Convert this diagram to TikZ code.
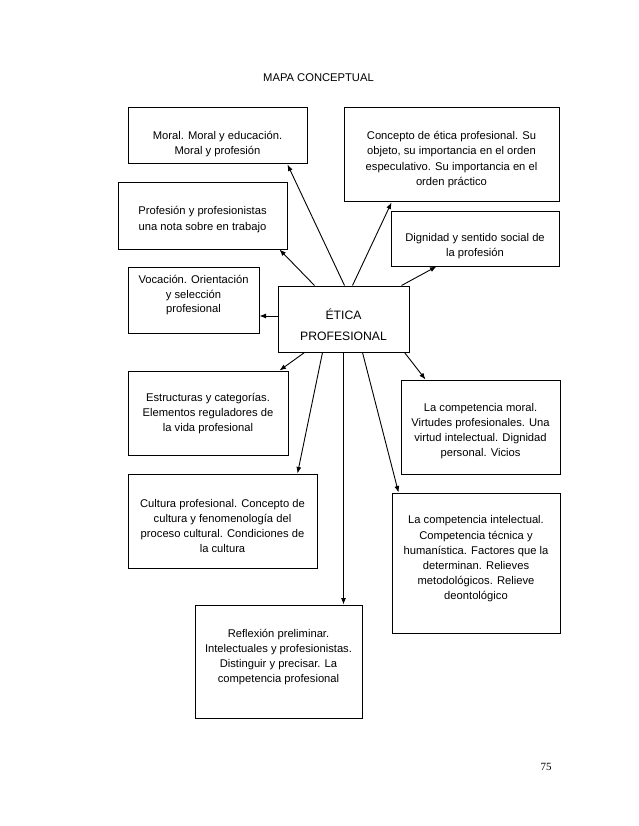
\documentclass[tikz,border=0pt]{standalone}
\usepackage{fontspec}
\setmainfont{Liberation Sans}
\newfontfamily\pagenumfont{Liberation Serif}
\usetikzlibrary{arrows.meta}
\begin{document}
\begin{tikzpicture}[x=1pt,y=-1pt,
  box/.style={draw, line width=1pt, rectangle, inner sep=0pt},
  txt/.style={align=center, font=\fontsize{11.2}{15.2}\selectfont, inner sep=0pt},
  arr/.style={line width=0.9pt, -{Latex[length=6.5pt,width=5pt]}}]
\useasboundingbox[fill=white] (0,0) rectangle (638,826);

\node[font=\fontsize{11.2}{14}\selectfont, inner sep=0pt] (title) at (318.5,78) {MAPA CONCEPTUAL};
\node[font=\pagenumfont\fontsize{11}{13}\selectfont, inner sep=0pt] (pnum) at (546,767) {75};

% boxes
\node[box, minimum width=179pt, minimum height=56pt]  (moral) at (217.5,136) {};
\node[box, minimum width=169pt, minimum height=66pt]  (prof)  at (202.5,216) {};
\node[box, minimum width=131pt, minimum height=66pt]  (voc)   at (193.5,300) {};
\node[box, minimum width=131pt, minimum height=66pt]  (etica) at (343.5,319) {};
\node[box, minimum width=215pt, minimum height=94pt]  (conc)  at (451.5,155) {};
\node[box, minimum width=168pt, minimum height=54pt]  (dign)  at (475,239) {};
\node[box, minimum width=160pt, minimum height=84pt]  (estr)  at (208,413) {};
\node[box, minimum width=159pt, minimum height=94pt]  (cmor)  at (480.5,427) {};
\node[box, minimum width=189pt, minimum height=94pt]  (cult)  at (222.5,521) {};
\node[box, minimum width=168pt, minimum height=140pt] (cint)  at (476,563) {};
\node[box, minimum width=167pt, minimum height=113pt] (refl)  at (278.5,661.5) {};

% texts
\node[txt] (tmoral) at (217.5,144) {Moral. Moral y educación.\\Moral y profesión};
\node[txt] (tprof) at (202.5,219.5) {Profesión y profesionistas\\una nota sobre en trabajo};
\node[txt, font=\fontsize{11.2}{14.5}\selectfont] (tvoc) at (193.5,295.5) {Vocación. Orientación\\y selección\\profesional};
\node[txt, font=\fontsize{12.2}{21}\selectfont] (tetica) at (343.5,324.5) {ÉTICA\\PROFESIONAL};
\node[txt] (tconc) at (451.5,159.5) {Concepto de ética profesional. Su\\objeto, su importancia en el orden\\especulativo. Su importancia en el\\orden práctico};
\node[txt] (tdign) at (475,246) {Dignidad y sentido social de\\la profesión};
\node[txt] (testr) at (208,413.5) {Estructuras y categorías.\\Elementos reguladores de\\la vida profesional};
\node[txt] (tcmor) at (480.5,431) {La competencia moral.\\Virtudes profesionales. Una\\virtud intelectual. Dignidad\\personal. Vicios};
\node[txt] (tcult) at (222.5,526) {Cultura profesional. Concepto de\\cultura y fenomenología del\\proceso cultural. Condiciones de\\la cultura};
\node[txt] (tcint) at (476,559) {La competencia intelectual.\\Competencia técnica y\\humanística. Factores que la\\determinan. Relieves\\metodológicos. Relieve\\deontológico};
\node[txt] (trefl) at (278.5,657) {Reflexión preliminar.\\Intelectuales y profesionistas.\\Distinguir y precisar. La\\competencia profesional};

% arrows
\draw[arr] ([xshift=67pt]etica.north west) -- ([xshift=160pt]moral.south west);
\draw[arr] ([xshift=37pt]etica.north west) -- ([xshift=162pt]prof.south west);
\draw[arr] ([yshift=3pt]etica.west) -- ([yshift=-16pt]voc.east);
\draw[arr] ([xshift=75pt]etica.north west) -- ([xshift=48pt]conc.south west);
\draw[arr] ([xshift=124pt]etica.north west) -- ([xshift=46pt]dign.south west);
\draw[arr] ([xshift=27pt]etica.south west) -- ([xshift=152pt]estr.north west);
\draw[arr] ([xshift=45pt]etica.south west) -- ([xshift=170pt]cult.north west);
\draw[arr] (etica.south) -- (etica.south |- refl.north);
\draw[arr] ([xshift=85pt]etica.south west) -- ([xshift=7pt]cint.north west);
\draw[arr] ([xshift=127pt]etica.south west) -- ([xshift=25pt]cmor.north west);
\end{tikzpicture}
\end{document}
